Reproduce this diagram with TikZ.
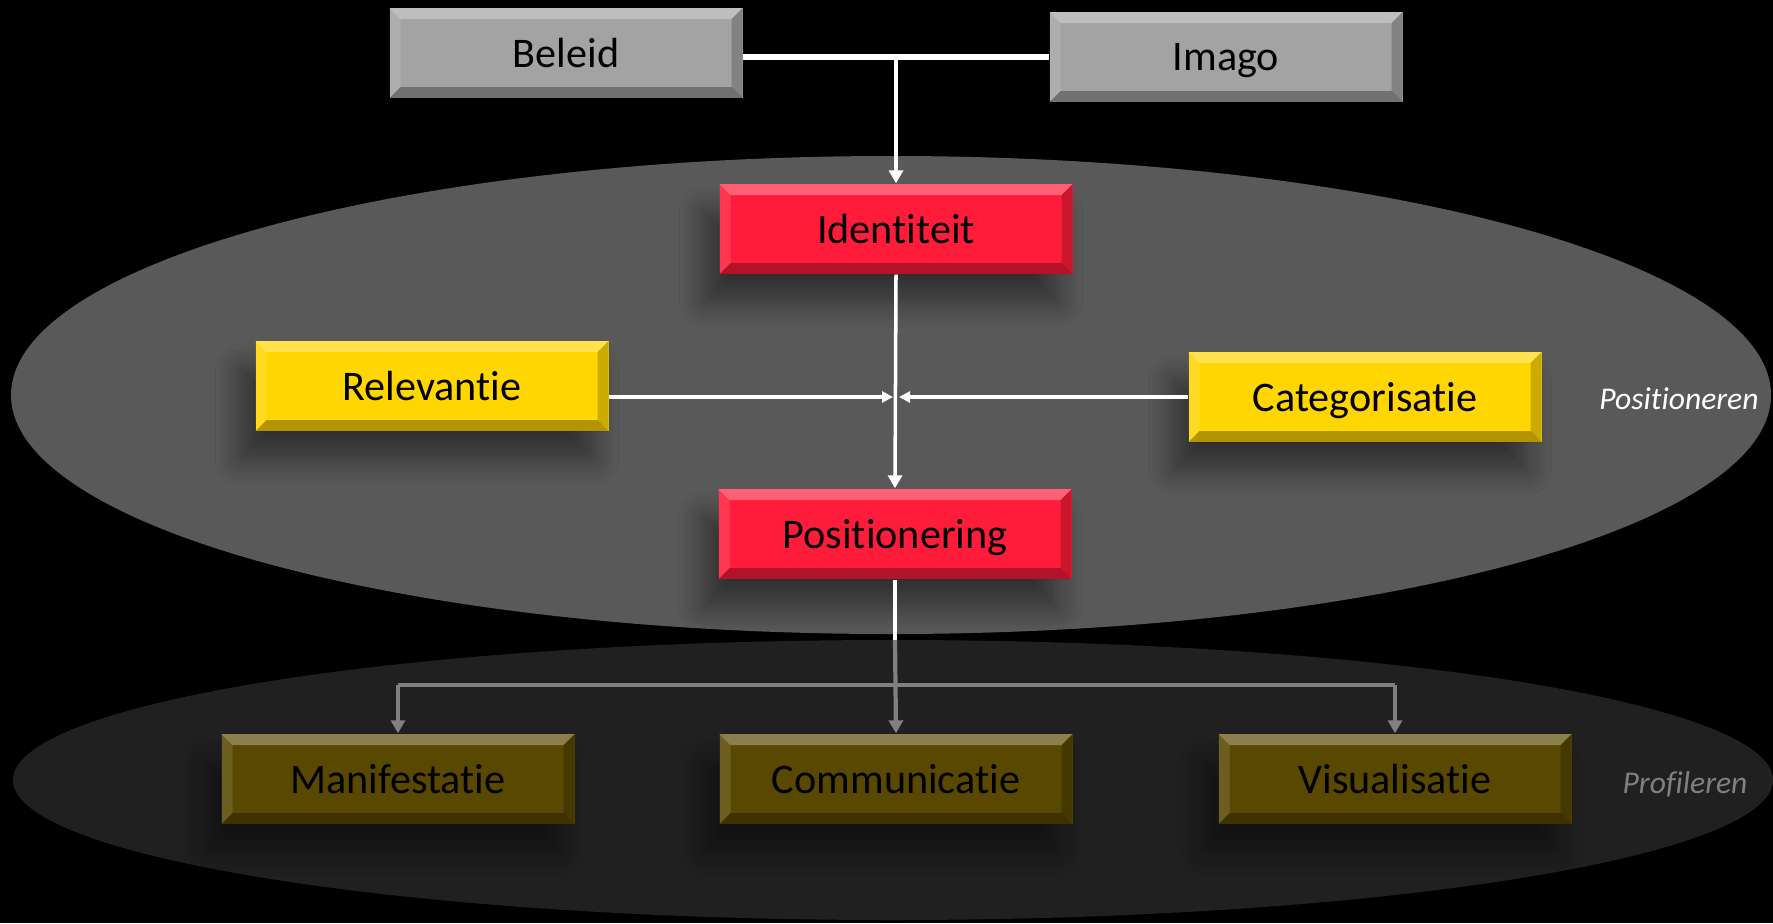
\documentclass[tikz,border=0pt]{standalone}
\usepackage{fontspec}
\setmainfont[Ligatures={NoCommon,NoContextual}]{Carlito}
\usetikzlibrary{arrows.meta,shadows.blur}
\definecolor{grijs}{RGB}{163,163,163}
\definecolor{rood}{RGB}{255,28,58}
\definecolor{geel}{RGB}{255,214,0}
\definecolor{olijf}{RGB}{88,72,0}
\definecolor{vlak1}{RGB}{89,89,89}
\definecolor{vlak2}{RGB}{32,32,32}
\definecolor{lijngrijs}{RGB}{128,128,128}
\begin{document}
\begin{tikzpicture}[>={Triangle[length=1.3mm,width=1.4mm]},
	bevel/.style={path picture={
		\coordinate (nw) at (path picture bounding box.north west);
		\coordinate (ne) at (path picture bounding box.north east);
		\coordinate (sw) at (path picture bounding box.south west);
		\coordinate (se) at (path picture bounding box.south east);
		\fill[white, opacity=.3] (nw) -- (ne) -- ([shift={(-1.1mm,-1.1mm)}]ne) -- ([shift={(1.1mm,-1.1mm)}]nw) -- cycle;
		\fill[white, opacity=.12] (nw) -- ([shift={(1.1mm,-1.1mm)}]nw) -- ([shift={(1.1mm,1.1mm)}]sw) -- (sw) -- cycle;
		\fill[black, opacity=.3] (sw) -- (se) -- ([shift={(-1.1mm,1.1mm)}]se) -- ([shift={(1.1mm,1.1mm)}]sw) -- cycle;
		\fill[black, opacity=.2] (ne) -- ([shift={(-1.1mm,-1.1mm)}]ne) -- ([shift={(-1.1mm,1.1mm)}]se) -- (se) -- cycle;
	}},
	blok/.style={minimum width=3.53cm, minimum height=0.9cm, inner sep=0pt, text=black, text depth=0pt,
		font=\fontsize{12}{14}\selectfont, bevel,
		blur shadow={shadow xshift=-1.5mm, shadow yshift=-2.8mm, shadow blur radius=2.5mm, shadow blur steps=8, shadow opacity=45}},
	lijn/.style={white, line width=1pt},
	laag/.style={lijngrijs, line width=1.2pt},
	zijtekst/.style={font=\fontsize{9}{11}\selectfont\itshape}]
	\useasboundingbox[fill=black] (0,0) rectangle (17.73,-9.23);
	\fill[vlak2] (8.93,-7.80) ellipse [x radius=8.8, y radius=1.4];
	\fill[vlak1] (8.91,-3.95) ellipse [x radius=8.8, y radius=2.39];
	\node[blok, fill=grijs] (beleid) at (5.66,-0.53) {Beleid};
	\node[blok, fill=grijs] (imago) at (12.26,-0.57) {Imago};
	\node[blok, fill=rood] (ident) at (8.96,-2.29) {Identiteit};
	\node[blok, fill=geel] (relev) at (4.32,-3.86) {Relevantie};
	\node[blok, fill=geel] (categ) at (13.65,-3.97) {Categorisatie};
	\node[blok, fill=rood] (posit) at (8.95,-5.34) {Positionering};
	\node[blok, fill=olijf] (manif) at (3.98,-7.79) {Manifestatie};
	\node[blok, fill=olijf] (commu) at (8.96,-7.79) {Communicatie};
	\node[blok, fill=olijf] (visua) at (13.95,-7.79) {Visualisatie};
	\node[zijtekst, white] (posl) at (16.79,-3.99) {Positioneren};
	\node[zijtekst, lijngrijs] (profl) at (16.85,-7.84) {Profileren};
	\coordinate (boven) at (ident.north |- imago.west);
	\coordinate (kruis) at (ident.south |- categ.west);
	\coordinate (rand) at (posit.south |- 0,-6.40);
	\coordinate (tak) at (posit.south |- 0,-6.85);
	\draw[lijn, line width=1.5pt] (beleid.east |- imago.west) -- (imago.west);
	\draw[lijn, ->] (boven) -- (ident.north);
	\draw[lijn, -{Triangle[length=1.1mm,width=1.1mm]}] (relev.east |- kruis) -- ([xshift=-0.3mm]kruis);
	\draw[lijn, -{Triangle[length=1.1mm,width=1.1mm]}] (categ.west) -- ([xshift=0.3mm]kruis);
	\draw[lijn, ->] (ident.south) -- (posit.north);
	\draw[lijn] (posit.south) -- (rand);
	\draw[laag, ->] (rand) -- (commu.north);
	\draw[laag, ->] (manif.north |- tak) -- (manif.north);
	\draw[laag, ->] (visua.north |- tak) -- (visua.north);
	\draw[laag] (manif.north |- tak) -- (visua.north |- tak);
\end{tikzpicture}
\end{document}
